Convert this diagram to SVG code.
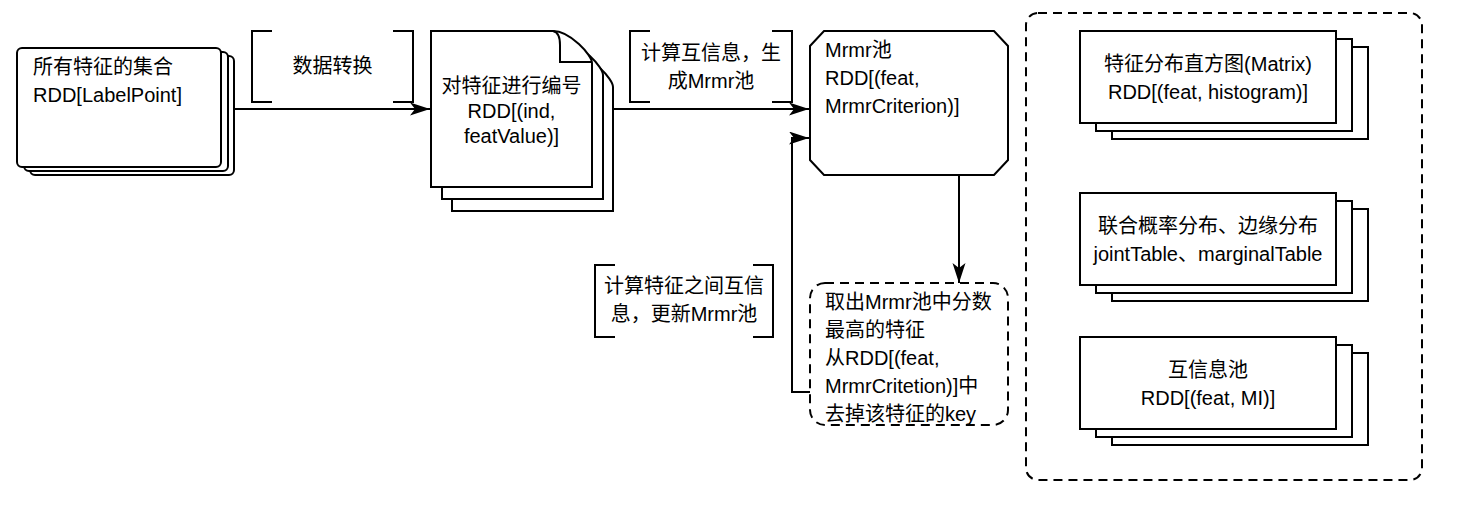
<svg xmlns="http://www.w3.org/2000/svg" width="1464" height="521" viewBox="0 0 1464 521">
<style>
.s{fill:#fff;stroke:#000;stroke-width:2}
.br{fill:none;stroke:#000;stroke-width:2}
.d{fill:none;stroke:#000;stroke-width:2;stroke-dasharray:9 6}
.c{fill:none;stroke:#000;stroke-width:2}
text{font-family:"Liberation Sans","Noto Sans CJK SC",sans-serif;font-size:20px;fill:#000}
.m{text-anchor:middle}
</style>
<defs>
<marker id="arr" markerUnits="userSpaceOnUse" markerWidth="21" markerHeight="14" refX="20" refY="6.5" orient="auto">
<path d="M0,0 L20,6.5 L0,13 L5,6.5 Z" fill="#000"/>
</marker>
<path id="doc" d="M0,0 H122 C139,0 161,24 161,32 V156 H0 Z"/>
</defs>
<rect width="1464" height="521" fill="#fff"/>

<g id="connectors">
<path class="c" d="M234,109 H430" marker-end="url(#arr)"/>
<path class="c" d="M613,109 H809" marker-end="url(#arr)"/>
<path class="c" d="M959,175 V283" marker-end="url(#arr)"/>
<path class="c" d="M810,392 H792 V138 H809" marker-end="url(#arr)"/>
</g>

<g id="label-transform">
<path class="br" d="M272,31 H252 V102 H272 M393,31 H413 V102 H393"/>
<text class="m" x="332.5" y="73">数据转换</text>
</g>

<g id="label-compute">
<path class="br" d="M650,31 H630 V102 H650 M772,31 H792 V102 H772"/>
<text class="m" x="711" y="60">计算互信息，生</text>
<text class="m" x="711" y="88">成Mrmr池</text>
</g>

<g id="label-update">
<path class="br" d="M615,265 H595 V337 H615 M753,265 H773 V337 H753"/>
<text class="m" x="684" y="293">计算特征之间互信</text>
<text class="m" x="684" y="321">息，更新Mrmr池</text>
</g>

<g id="node-all-features">
<rect class="s" x="30" y="56" width="204" height="119" rx="5"/>
<rect class="s" x="24" y="52" width="204" height="119" rx="5"/>
<rect class="s" x="17" y="48" width="204" height="119" rx="5"/>
<text x="33" y="74">所有特征的集合</text>
<text x="33" y="102">RDD[LabelPoint]</text>
</g>

<g id="node-encode">
<use href="#doc" class="s" x="452" y="55"/>
<use href="#doc" class="s" x="442" y="43"/>
<use href="#doc" class="s" x="431" y="31"/>
<path class="br" d="M553,31 C558,32 560,38 560,45 V62 H592"/>
<text class="m" x="511.5" y="93">对特征进行编号</text>
<text class="m" x="511.5" y="118">RDD[(ind,</text>
<text class="m" x="511.5" y="143">featValue)]</text>
</g>

<g id="node-mrmr-pool">
<path class="s" d="M824,31 H994 L1008,46 V160 L994,175 H824 L810,160 V46 Z"/>
<text x="825" y="57">Mrmr池</text>
<text x="825" y="85">RDD[(feat,</text>
<text x="825" y="113">MrmrCriterion)]</text>
</g>

<g id="node-select">
<rect class="d" x="810" y="283" width="198" height="142" rx="15" fill="#fff"/>
<text x="825" y="309">取出Mrmr池中分数</text>
<text x="825" y="337">最高的特征</text>
<text x="825" y="365">从RDD[(feat,</text>
<text x="825" y="393">MrmrCritetion)]中</text>
<text x="825" y="421">去掉该特征的key</text>
</g>

<g id="container">
<rect class="d" x="1026" y="13" width="396" height="467" rx="12"/>
</g>

<g id="node-histogram">
<rect class="s" x="1112" y="47" width="256" height="92"/>
<rect class="s" x="1096" y="39" width="256" height="92"/>
<rect class="s" x="1080" y="31" width="256" height="92"/>
<text class="m" x="1208" y="71">特征分布直方图(Matrix)</text>
<text class="m" x="1208" y="99">RDD[(feat, histogram)]</text>
</g>

<g id="node-joint">
<rect class="s" x="1112" y="209" width="256" height="92"/>
<rect class="s" x="1096" y="201" width="256" height="92"/>
<rect class="s" x="1080" y="193" width="256" height="92"/>
<text class="m" x="1208" y="233">联合概率分布、边缘分布</text>
<text class="m" x="1208" y="261">jointTable、marginalTable</text>
</g>

<g id="node-mi-pool">
<rect class="s" x="1112" y="353" width="256" height="92"/>
<rect class="s" x="1096" y="345" width="256" height="92"/>
<rect class="s" x="1080" y="337" width="256" height="92"/>
<text class="m" x="1208" y="377">互信息池</text>
<text class="m" x="1208" y="405">RDD[(feat, MI)]</text>
</g>
</svg>
